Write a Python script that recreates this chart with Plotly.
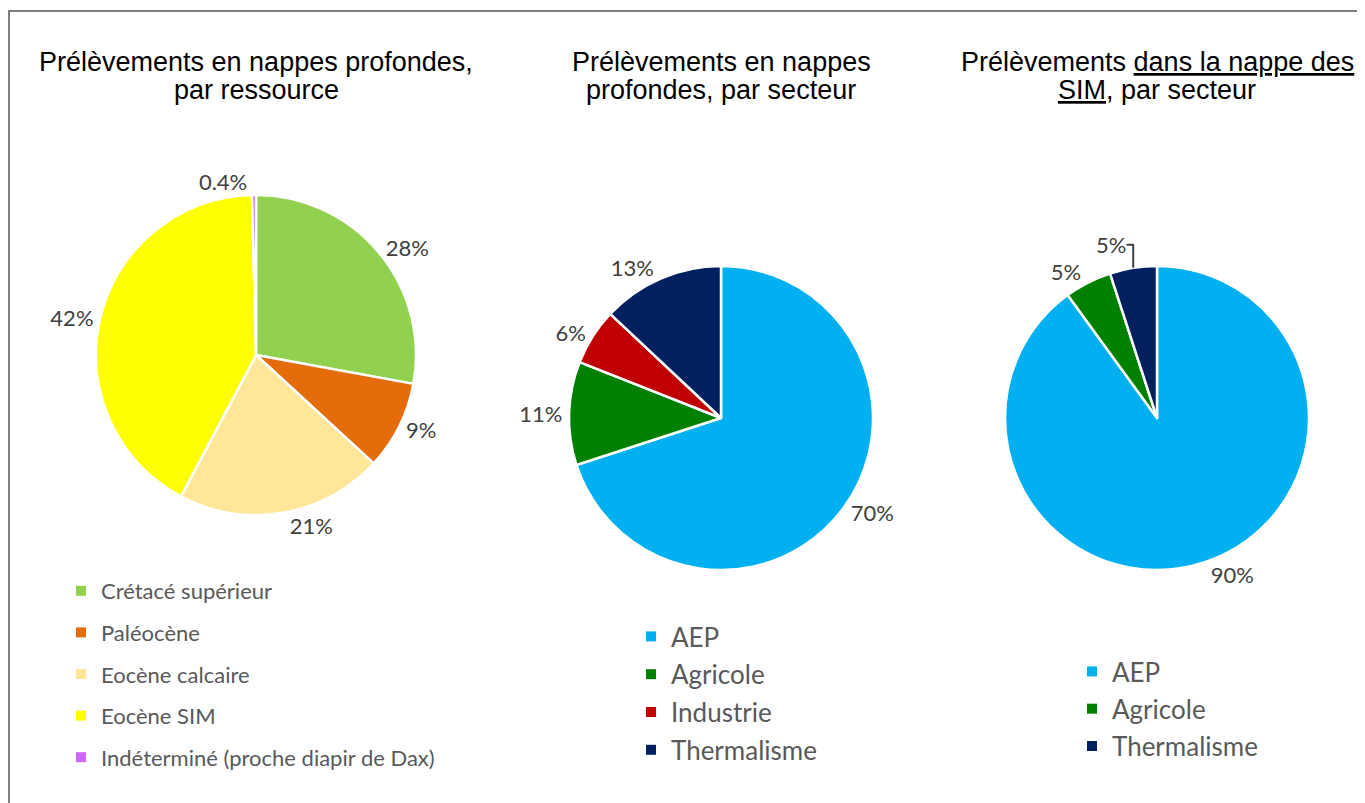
import plotly.graph_objects as go

W, H = 1365, 803

# --- data
res_labels = ["Crétacé supérieur", "Paléocène", "Eocène calcaire", "Eocène SIM",
              "Indéterminé (proche diapir de Dax)"]
res_values = [28, 9, 21, 42, 0.4]
res_colors = ["#92D050", "#E46C0A", "#FFE699", "#FFFF00", "#CC66FF"]

sect_labels = ["AEP", "Agricole", "Industrie", "Thermalisme"]
sect_values = [70, 11, 6, 13]
sect_colors = ["#00B0F0", "#008000", "#C00000", "#002060"]

sim_labels = ["AEP", "Agricole", "Thermalisme"]
sim_values = [90, 5, 5]
sim_colors = ["#00B0F0", "#008000", "#002060"]

titles = [
    ["Prélèvements en nappes profondes,", "par ressource"],
    ["Prélèvements en nappes", "profondes, par secteur"],
    ["Prélèvements <u>dans la nappe des</u>", "<u>SIM</u>, par secteur"],
]

LBL_FONT = "Lato, Open Sans, sans-serif"
TTL_FONT = "Liberation Sans, Arial, sans-serif"

OFF = 8  # page body margin


def px(x):
    return (x - OFF) / W


def py(y):
    return 1 - (y - OFF) / H


def pct(v):
    return f"{v:g}%"


fig = go.Figure()

pies = [
    (res_labels, res_values, res_colors, 256, 355, 160),
    (sect_labels, sect_values, sect_colors, 721, 418, 152),
    (sim_labels, sim_values, sim_colors, 1157, 418, 152),
]
for labels, values, colors, cx, cy, r in pies:
    fig.add_trace(go.Pie(
        labels=labels, values=values, sort=False, direction="clockwise",
        marker=dict(colors=colors, line=dict(color="white", width=2.5)),
        text=[pct(v) for v in values], textinfo="text", textposition="outside",
        textfont=dict(family=LBL_FONT, size=22, color="#404040"),
        domain=dict(x=[px(cx - r), px(cx + r)], y=[py(cy + r), py(cy - r)]),
        showlegend=False, hoverinfo="label+percent",
    ))

# legends (one entry per category, spaced like the original)
legend_specs = [
    ("legend", res_labels, res_colors, 22, 10, 61, 570),
    ("legend2", sect_labels, sect_colors, 26, 1, 631, 613),
    ("legend3", sim_labels, sim_colors, 26, 0.5, 1072, 648),
]
for lg, labels, colors, fsize, gap, lx, ly in legend_specs:
    for lab, col in zip(labels, colors):
        fig.add_trace(go.Scatter(
            x=[None], y=[None], mode="markers", name=lab, legend=lg,
            legendgroup=lg + lab,
            marker=dict(symbol="square", size=10, color=col),
        ))
    fig.layout[lg] = dict(
        x=px(lx), y=py(ly), xanchor="left", yanchor="top",
        traceorder="grouped", tracegroupgap=gap,
        font=dict(family=LBL_FONT, size=fsize, color="#595959"),
        bgcolor="rgba(0,0,0,0)",
    )

# titles, one annotation per line to keep the tight line spacing
title_x = [256, 721, 1157]
for (l1, l2), tx in zip(titles, title_x):
    for line, by in ((l1, 62), (l2, 90)):
        fig.add_annotation(
            x=px(tx), y=py(by), xref="paper", yref="paper", text=line,
            showarrow=False, xanchor="center", yanchor="middle",
            font=dict(family=TTL_FONT, size=27, color="black"),
        )

# outer frame (right and bottom edges fall outside the picture)
fig.add_shape(type="rect", xref="paper", yref="paper",
              x0=px(9), y0=-0.05, x1=1.05, y1=py(11),
              line=dict(color="#7F7F7F", width=2))

fig.update_layout(
    width=W, height=H, margin=dict(l=0, r=0, t=0, b=0),
    paper_bgcolor="white", plot_bgcolor="white",
    xaxis=dict(visible=False), yaxis=dict(visible=False),
)

fig.write_html("out.html")
